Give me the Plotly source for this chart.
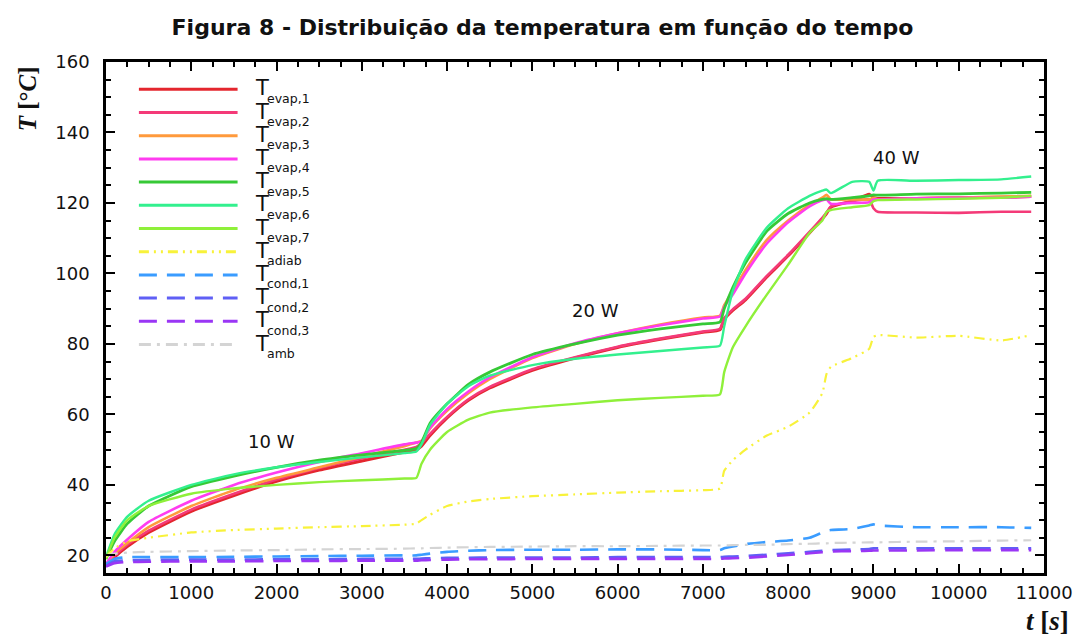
import plotly.graph_objects as go

# ---------------- data ----------------
t = [0, 100, 250, 500, 1000, 1500, 2000, 2500, 3000, 3500,
     3640, 3700, 3800, 4000, 4250, 4500, 5000, 5500, 6000, 6500,
     7000, 7200, 7250, 7350, 7500, 7750, 8000, 8250, 8400, 8450,
     8500, 8750, 8950, 9000, 9050, 9500, 10000, 10500, 10850]

T_evap1 = [17, 19.5, 22.5, 26.5, 32.5, 37, 41, 44.2, 46.8, 49.3,
           50, 51, 54, 59, 64, 67.5, 72.5, 76, 79, 81.3,
           83.3, 84, 87, 89.5, 92.5, 99, 105, 111.5, 115.5, 117,
           118.8, 120.5, 122.5, 121.5, 121.3, 121.3, 121.5, 121.6, 121.8]
T_evap2 = [17, 19.8, 23, 27, 33, 37.5, 41.5, 44.8, 47.5, 50,
           50.8, 51.8, 54.5, 59.3, 64.3, 67.8, 72.8, 76.2, 79.2, 81.5,
           83.5, 84.3, 87.3, 89.8, 92.8, 99.3, 105.3, 111.8, 115.8, 117.3,
           119, 120.5, 121, 118.5, 117.5, 117.3, 117.2, 117.5, 117.5]
T_evap3 = [17, 20.5, 23.5, 28, 34, 38.5, 42, 45, 48, 51,
           52, 52.5, 56, 61, 66, 70, 76, 80, 83, 85.5,
           87.5, 88, 91, 95, 101, 109.5, 115, 119.5, 121.5, 122.3,
           121, 121, 121, 121.5, 121, 121.3, 121.5, 121.8, 122]
T_evap4 = [17.5, 21, 24.5, 29.5, 35.5, 40, 43.5, 46.5, 49, 51.5,
           52, 52.3, 56.2, 61.5, 66.5, 70.5, 76.2, 80.2, 83, 85.3,
           87.2, 87.8, 90.5, 94, 100, 108.5, 114.5, 119, 120.8, 121,
           119.8, 120, 120.2, 121, 121, 121.3, 121.5, 121.5, 121.8]
T_evap5 = [19, 24, 29, 34, 39.5, 42.5, 45, 47, 48.5, 49.8,
           50.3, 52, 57.5, 63, 68.5, 72, 77, 80, 82.5, 84.3,
           85.7, 86.2, 90, 96, 103, 112, 117, 120, 121, 121.2,
           121, 121.5, 122, 122.3, 122.2, 122.5, 122.6, 122.8, 123]
T_evap6 = [19.5, 26, 31, 35.5, 40, 43, 45, 46.5, 47.8, 49,
           49.5, 51.5, 57, 63, 68, 71, 74, 75.8, 77, 78,
           79, 79.5, 85, 95, 104, 113, 118.5, 122, 123.5, 123.8,
           122.8, 126, 126, 123.5, 126.3, 126.3, 126.5, 126.7, 127.5]
T_evap7 = [19, 25, 30, 34, 37.5, 39, 40, 40.8, 41.3, 41.8,
           42, 46, 50, 55, 58.5, 60.5, 62, 63, 64, 64.7,
           65.3, 65.7, 72, 79, 85, 94, 102.5, 111.5, 115, 117.5,
           118, 118.8, 119.4, 120.5, 120.8, 121, 121.2, 121.5, 122]
T_adiab = [19.5, 22, 24, 25, 26.5, 27.2, 27.6, 28, 28.3, 28.7,
           29, 30, 31.5, 34, 35.3, 36, 36.8, 37.3, 37.8, 38.2,
           38.5, 39, 44, 47, 50, 54, 56.5, 60.5, 66, 71.5,
           73.5, 76, 78.6, 82, 82.5, 81.8, 82.3, 81, 82.5]
T_cond1 = [17.5, 19, 19.5, 19.5, 19.5, 19.6, 19.7, 19.8, 19.9, 20,
           20, 20.2, 20.5, 21, 21.3, 21.5, 21.6, 21.6, 21.7, 21.7,
           21.5, 21.5, 22, 22.5, 23.2, 23.8, 24.2, 25, 26.5, 27,
           27.2, 27.5, 28.5, 28.8, 28.5, 28, 28, 28, 27.8]
T_cond2 = [17, 18.3, 18.6, 18.7, 18.8, 18.8, 18.9, 18.9, 19, 19,
           19, 19.1, 19.2, 19.3, 19.3, 19.4, 19.4, 19.4, 19.5, 19.5,
           19.5, 19.5, 19.6, 19.7, 19.8, 20.2, 20.6, 21, 21.3, 21.4,
           21.5, 21.7, 21.8, 22, 22, 22, 22, 22, 22]
T_cond3 = [16.8, 17.8, 18.1, 18.2, 18.3, 18.3, 18.4, 18.4, 18.5, 18.5,
           18.5, 18.6, 18.7, 18.8, 18.9, 18.9, 19, 19, 19, 19,
           19, 19, 19.1, 19.2, 19.3, 19.7, 20.1, 20.6, 20.9, 21,
           21.1, 21.2, 21.3, 21.4, 21.4, 21.4, 21.5, 21.5, 21.5]
T_amb = [20, 20.5, 20.8, 21, 21.2, 21.4, 21.5, 21.7, 21.8, 21.9,
         22, 22, 22.1, 22.2, 22.3, 22.4, 22.5, 22.6, 22.6, 22.7,
         22.8, 22.8, 22.8, 22.9, 23, 23, 23.2, 23.3, 23.4, 23.4,
         23.5, 23.6, 23.7, 23.7, 23.7, 23.9, 24, 24.2, 24.3]

sub_labels = ["evap,1", "evap,2", "evap,3", "evap,4", "evap,5", "evap,6", "evap,7",
              "adiab", "cond,1", "cond,2", "cond,3", "amb"]
series = [T_evap1, T_evap2, T_evap3, T_evap4, T_evap5, T_evap6, T_evap7,
          T_adiab, T_cond1, T_cond2, T_cond3, T_amb]

power_labels = ["10 W", "20 W", "40 W"]
power_pos_t = [1935, 5745, 9265]
power_pos_T = [52.2, 89.4, 133.0]

x_ticks = list(range(0, 11001, 1000))
x_ticktext = [str(v) for v in x_ticks]
y_ticks = list(range(20, 161, 20))
y_ticktext = [str(v) for v in y_ticks]

# ---------------- styles ----------------
colors = ["#e4262e", "#f43a78", "#ff9a3c", "#ff3cf0", "#36c936", "#33f08e", "#8ff03a",
          "#f8f23a", "#3a9cff", "#5f5ff5", "#9a36f5", "#d4d4d4"]
dashes = ["solid"] * 7 + ["10px,5px,2px,5px,2px,5px", "18px,10px", "18px,10px", "18px,10px",
                          "12px,6px,3px,6px"]
widths = [3, 2.6, 2.6, 2.6, 2.8, 2.4, 2.4, 2.2, 2.6, 2.6, 2.6, 2.2]

W, H = 1085, 638
L, R, TOP, B = 106, 38, 62, 65
PW, PH = W - L - R, H - TOP - B


def px(x):
    return (x - L) / PW


def py(y):
    return (H - B - y) / PH


fig = go.Figure()
for i, (lab, ys) in enumerate(zip(sub_labels, series)):
    fig.add_trace(go.Scatter(
        x=t, y=ys, mode="lines", name="T " + lab,
        line=dict(color=colors[i], width=widths[i], dash=dashes[i],
                  shape="spline", smoothing=0.5),
        showlegend=False, hoverinfo="skip"))

shapes = []
annotations = []
# manual legend
for i, lab in enumerate(sub_labels):
    yrow = 89.3 + i * 23.2
    shapes.append(dict(type="line", xref="paper", yref="paper",
                       x0=px(139), x1=px(238), y0=py(yrow), y1=py(yrow),
                       line=dict(color=colors[i], width=3, dash=dashes[i])))
    annotations.append(dict(text="T", xref="paper", yref="paper",
                            x=px(253), y=py(yrow - 1), xanchor="left", yanchor="middle",
                            showarrow=False,
                            font=dict(family="DejaVu Sans", size=21, color="#111")))
    annotations.append(dict(text=lab, xref="paper", yref="paper",
                            x=px(266), y=py(yrow + 9), xanchor="left", yanchor="middle",
                            showarrow=False,
                            font=dict(family="DejaVu Sans", size=12.5, color="#111")))

for lab, xx, yy in zip(power_labels, power_pos_t, power_pos_T):
    annotations.append(dict(text=lab, x=xx, y=yy, xref="x", yref="y", showarrow=False,
                            xanchor="center", yanchor="middle",
                            font=dict(family="DejaVu Sans", size=18, color="#111")))

# axis titles
annotations.append(dict(text="<b><i>T</i> [°<i>C</i>]</b>", xref="paper", yref="paper",
                        x=px(27), y=py(99), textangle=-90, showarrow=False,
                        xanchor="center", yanchor="middle",
                        font=dict(family="Liberation Serif", size=25, color="#111")))
annotations.append(dict(text="<b><i>t</i> [<i>s</i>]</b>", xref="paper", yref="paper",
                        x=px(1051), y=py(621), showarrow=False,
                        xanchor="center", yanchor="middle",
                        font=dict(family="Liberation Serif", size=27, color="#111")))

axis_common = dict(showline=True, linecolor="black", linewidth=2.5, mirror="allticks",
                   ticks="inside", ticklen=9, tickwidth=2, tickcolor="black",
                   showgrid=False, zeroline=False,
                   tickfont=dict(family="DejaVu Sans", size=18, color="#111"))

fig.update_layout(
    width=W, height=H,
    margin=dict(l=L, r=R, t=TOP, b=B),
    paper_bgcolor="white", plot_bgcolor="white",
    title=dict(text="<b>Figura 8 - Distribuição da temperatura em função do tempo</b>",
               x=0.5, xref="container", xanchor="center",
               y=1 - 27 / H, yref="container", yanchor="middle",
               font=dict(family="DejaVu Sans", size=22, color="#111")),
    xaxis=dict(range=[0, 11000], tickvals=x_ticks, ticktext=x_ticktext, ticklabelstandoff=2,
               minor=dict(dtick=250, ticks="inside", ticklen=5, tickwidth=1.5,
                          tickcolor="black", showgrid=False),
               **axis_common),
    yaxis=dict(range=[15, 160], tickvals=y_ticks, ticktext=y_ticktext, ticklabelstandoff=10,
               minor=dict(dtick=5, ticks="inside", ticklen=5, tickwidth=1.5,
                          tickcolor="black", showgrid=False),
               **axis_common),
    shapes=shapes,
    annotations=annotations,
)

fig.write_html("out.html")
